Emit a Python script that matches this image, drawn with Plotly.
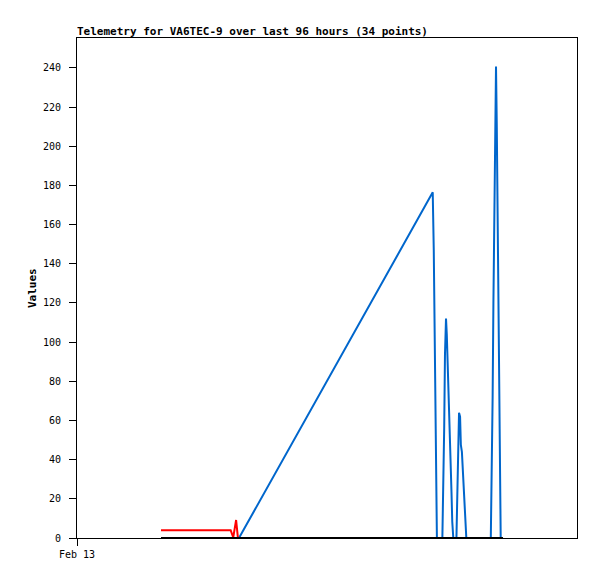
import pandas as pd
import plotly.graph_objects as go

base = pd.Timestamp("2024-02-13 00:00")

# hours since Feb 13 00:00
blue_hours = [31.1, 68.3, 68.5, 68.7, 68.9, 69.1,
              70.15, 70.3, 70.5, 70.65, 70.85, 71.0, 71.2, 71.35, 71.55, 71.7, 71.9, 72.05, 72.25,
              72.85, 73.0, 73.2, 73.35, 73.55, 73.7, 73.9, 74.05, 74.25, 74.4, 74.6, 74.75,
              79.45, 79.6, 79.8, 79.95, 80.15, 80.3, 80.45, 80.6, 80.8, 80.95, 81.15, 81.35]
blue_vals = [0, 176.5, 147, 88, 30, 0,
             0, 18.5, 56, 93.5, 112, 104, 88, 72, 56, 40, 23.6, 8.3, 0,
             0, 16.3, 48.5, 64, 62, 47.5, 44, 36, 26.6, 16, 5.8, 0,
             0, 24.5, 72, 120, 168, 217, 240.7, 210, 150, 90, 29.6, 0]

red_hours = [16.13, 29.5, 30.0, 30.3, 30.55, 30.9]
red_vals = [4, 4, 0.3, 4.5, 9.2, 0]

black_hours = [16.13, 81.8]
black_vals = [0, 0]

x_tick_labels = ["Feb 13"]
title_text = "Telemetry for VA6TEC-9 over last 96 hours (34 points)"

W, H = 589, 571


def to_time(hours):
    return [base + pd.Timedelta(hours=h) for h in hours]


fig = go.Figure()
fig.add_trace(go.Scatter(x=to_time(blue_hours), y=blue_vals, mode="lines",
                         line=dict(color="#0066cc", width=2), showlegend=False))
fig.add_trace(go.Scatter(x=to_time(red_hours), y=red_vals, mode="lines",
                         line=dict(color="#ff0000", width=2), showlegend=False))
fig.add_trace(go.Scatter(x=to_time(black_hours), y=black_vals, mode="lines",
                         line=dict(color="#000000", width=2), showlegend=False))

fig.update_layout(
    width=W, height=H,
    margin=dict(l=69, r=20, t=30, b=41),
    paper_bgcolor="white", plot_bgcolor="white",
    font=dict(family="DejaVu Sans Mono", size=10, color="black"),
    title=dict(text="<b>" + title_text + "</b>", x=69 / W, xanchor="left",
               y=1 - 23 / H, yanchor="middle", font=dict(size=11)),
    xaxis=dict(type="date", range=[base, base + pd.Timedelta(hours=96)],
               tickvals=[base], ticktext=x_tick_labels,
               showgrid=False, zeroline=False, showline=True, mirror=True,
               linecolor="black", linewidth=1, ticks="outside", ticklen=7,
               tickcolor="black"),
    yaxis=dict(range=[0, 255.3], dtick=20, tick0=0, showgrid=False, zeroline=False,
               showline=True, mirror=True, linecolor="black", linewidth=1,
               ticks="outside", ticklen=7, tickcolor="black", ticklabelstandoff=6),
    annotations=[dict(text="<b>Values</b>", textangle=-90, xref="paper", yref="paper",
                      x=(32 - 77) / 500, y=0.5, xanchor="center", yanchor="middle",
                      showarrow=False, font=dict(size=11))],
)

fig.write_html("out.html")
